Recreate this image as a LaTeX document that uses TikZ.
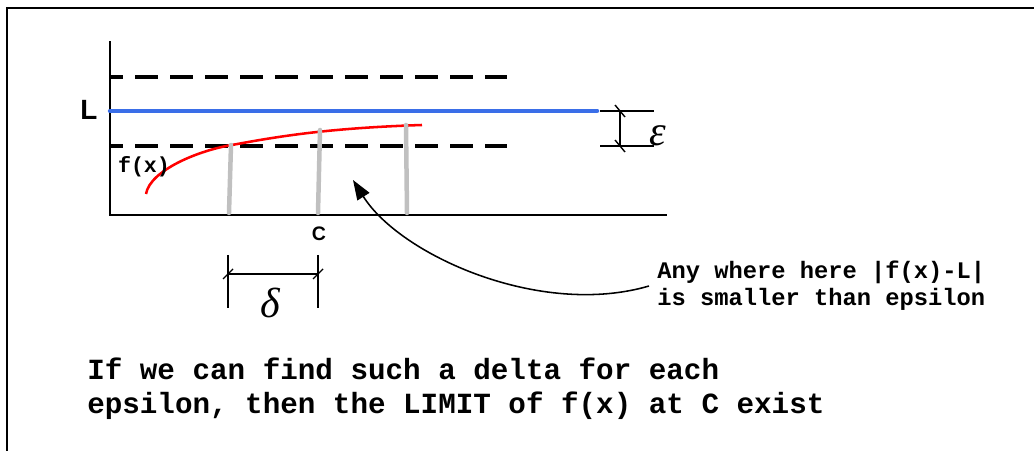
\documentclass[tikz,border=0pt]{standalone}
\usepackage{fontspec}
\setmainfont{Liberation Serif}
\newfontfamily\courierbold{Liberation Mono}
\newfontfamily\helvfont{Liberation Sans}
\definecolor{limitblue}{HTML}{3A6EE8}
\definecolor{curvered}{HTML}{FF0000}
\definecolor{bargray}{HTML}{C0C0C0}
\usetikzlibrary{arrows.meta,positioning}

\begin{document}
\begin{tikzpicture}[x=0.025cm,y=-0.025cm,
    axis/.style={line width=1.4pt,line cap=rect},
    band/.style={line width=2.4pt,dash pattern=on 16.4pt off 8.5pt,dash phase=7pt},
    bar/.style={bargray,line width=3.2pt,line cap=round},
    dim/.style={line width=1pt},
    monolabel/.style={inner sep=0pt,font=\courierbold\bfseries},
    greek/.style={inner sep=0pt,font=\fontsize{30}{32}\selectfont\itshape}]
  \useasboundingbox (0,0) rectangle (1034,451);
  % frame
  \draw[line width=1.8pt] (7,451) -- (7,8) -- (1034,8);
  % axes
  \draw[axis] (110,42) -- (110,215) -- (666,215);
  % epsilon band
  \draw[band] (110,77) -- (507,77);
  \draw[band] (110,146) -- (507,146);
  \draw[limitblue,line width=3.2pt,line cap=round] (110,111) -- (597,111);
  \node[inner sep=0pt,font=\helvfont\bfseries\fontsize{19.8}{22}\selectfont] (L) at (89,110) {L};
  % f(x)
  \draw[curvered,line width=1.8pt] (146,194) .. controls (150,170) and (200,150) .. (232,145)
    .. controls (280,136) and (330,128) .. (422,125);
  \node[monolabel,font=\courierbold\bfseries\fontsize{15.4}{17}\selectfont] (fx) at (144,167) {f(x)};
  % bars
  \draw[bar] (231,145) -- (229,213);
  \draw[bar] (320,130) -- (318,213);
  \draw[bar] (406,125) -- (407,213);
  \node[inner sep=0pt,font=\helvfont\bfseries\fontsize{13.9}{15}\selectfont] (C) at (319,234) {C};
  % epsilon
  \draw[dim] (600,111) -- (654,111);
  \draw[dim] (600,146) -- (654,146);
  \draw[dim] (620,111) -- (620,146);
  \draw[dim] (615,105) -- (625,117);
  \draw[dim] (615,140) -- (625,152);
  \node[greek] (eps) at (658,136) {ε};
  % delta
  \draw[dim] (228,255) -- (228,308);
  \draw[dim] (318,255) -- (318,308);
  \draw[dim] (228,274) -- (318,274);
  \draw[dim] (223,279) -- (233,269);
  \draw[dim] (313,279) -- (323,269);
  \node[greek] (delta) at (270,303) {δ};
  % note
  \node[monolabel,font=\courierbold\bfseries\fontsize{16.9}{19.2}\selectfont,align=left,
    anchor=west,inner xsep=5.7pt] (note) at (649,286)
    {Any where here |f(x)-L|\\is smaller than epsilon};
  \coordinate (tip) at (353,180);
  \draw[line width=1.1pt,-{Triangle[length=14pt,width=10pt]}] (note.west)
    .. controls (540,318) and (400,255) .. (tip);
  % conclusion
  \node[monolabel,font=\courierbold\bfseries\fontsize{20.8}{24.2}\selectfont,align=left,
    anchor=west] (concl) at (87,389)
    {If we can find such a delta for each\\epsilon, then the LIMIT of f(x) at C exist};
\end{tikzpicture}
\end{document}
